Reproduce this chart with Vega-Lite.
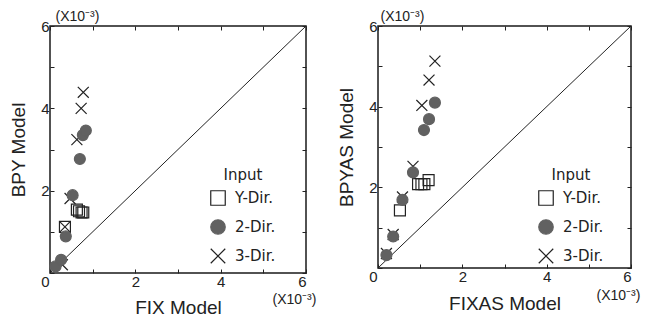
{
  "$schema": "https://vega.github.io/schema/vega-lite/v6.json",
  "background": "white",
  "padding": {"left": 8, "top": 8, "right": 0, "bottom": 0},
  "bounds": "flush",
  "spacing": 72,
  "config": {
    "view": {"stroke": "#1a1a1a", "strokeWidth": 1.5},
    "font": "Liberation Sans",
    "axis": {
      "grid": false,
      "domain": false,
      "tickColor": "#222",
      "tickSize": -4,
      "tickWidth": 1,
      "labelFont": "Liberation Sans",
      "labelFontSize": 15,
      "labelColor": "#222",
      "labelPadding": 5,
      "titleFont": "Liberation Sans",
      "titleFontSize": 19,
      "titleFontWeight": "normal",
      "titleColor": "#222"
    },
    "legend": {
      "orient": "none",
      "legendX": 160,
      "legendY": 142,
      "padding": 0,
      "titleFont": "DejaVu Sans",
      "titleFontSize": 15,
      "titleFontWeight": "normal",
      "titleColor": "#222",
      "titleAnchor": "middle",
      "titleAlign": "center",
      "titlePadding": 7,
      "labelFont": "DejaVu Sans",
      "labelFontSize": 15,
      "labelColor": "#222",
      "labelOffset": 9,
      "symbolSize": 210,
      "symbolStrokeWidth": 1.2,
      "rowPadding": 9
    }
  },
  "datasets": {
    "diag": [{"x": 0, "y": 0, "x2": 6, "y2": 6}],
    "fix": [
      {"series": "Y-Dir.", "x": 0.35, "y": 1.12},
      {"series": "Y-Dir.", "x": 0.63, "y": 1.54},
      {"series": "Y-Dir.", "x": 0.68, "y": 1.5},
      {"series": "Y-Dir.", "x": 0.74, "y": 1.47},
      {"series": "Y-Dir.", "x": 0.78, "y": 1.47},
      {"series": "3-Dir.", "x": 0.29, "y": 0.2},
      {"series": "3-Dir.", "x": 0.35, "y": 1.12},
      {"series": "3-Dir.", "x": 0.47, "y": 1.81},
      {"series": "3-Dir.", "x": 0.63, "y": 3.24},
      {"series": "3-Dir.", "x": 0.73, "y": 4.0},
      {"series": "3-Dir.", "x": 0.78, "y": 4.39},
      {"series": "2-Dir.", "x": 0.13, "y": 0.16},
      {"series": "2-Dir.", "x": 0.26, "y": 0.32},
      {"series": "2-Dir.", "x": 0.37, "y": 0.89},
      {"series": "2-Dir.", "x": 0.53, "y": 1.89},
      {"series": "2-Dir.", "x": 0.7, "y": 2.77},
      {"series": "2-Dir.", "x": 0.77, "y": 3.35},
      {"series": "2-Dir.", "x": 0.84, "y": 3.46}
    ],
    "fixas": [
      {"series": "Y-Dir.", "x": 0.52, "y": 1.43},
      {"series": "Y-Dir.", "x": 0.95, "y": 2.08},
      {"series": "Y-Dir.", "x": 1.03, "y": 2.08},
      {"series": "Y-Dir.", "x": 1.1, "y": 2.08},
      {"series": "Y-Dir.", "x": 1.2, "y": 2.18},
      {"series": "3-Dir.", "x": 0.2, "y": 0.36},
      {"series": "3-Dir.", "x": 0.36, "y": 0.83},
      {"series": "3-Dir.", "x": 0.58, "y": 1.76},
      {"series": "3-Dir.", "x": 0.83, "y": 2.52},
      {"series": "3-Dir.", "x": 1.04, "y": 4.03},
      {"series": "3-Dir.", "x": 1.21, "y": 4.66},
      {"series": "3-Dir.", "x": 1.35, "y": 5.13},
      {"series": "2-Dir.", "x": 0.2, "y": 0.32},
      {"series": "2-Dir.", "x": 0.36, "y": 0.78},
      {"series": "2-Dir.", "x": 0.58, "y": 1.69},
      {"series": "2-Dir.", "x": 0.83, "y": 2.37},
      {"series": "2-Dir.", "x": 1.09, "y": 3.42},
      {"series": "2-Dir.", "x": 1.21, "y": 3.69},
      {"series": "2-Dir.", "x": 1.35, "y": 4.1}
    ]
  },
  "hconcat": [
    {
      "width": 256,
      "height": 247,
      "layer": [
        {
          "data": {"name": "diag"},
          "mark": {"type": "rule", "color": "#222", "strokeWidth": 1},
          "encoding": {
            "x": {"field": "x", "type": "quantitative", "scale": {"domain": [0, 6], "nice": false},
              "axis": {"orient": "bottom", "values": [0, 1, 2, 3, 4, 5, 6], "labelExpr": "datum.value > 0 && datum.value % 2 == 0 ? datum.label : ''", "title": "FIX Model", "titleY": 40, "titleBaseline": "alphabetic"}},
            "y": {"field": "y", "type": "quantitative", "scale": {"domain": [0, 6], "nice": false},
              "axis": {"orient": "left", "values": [0, 1, 2, 3, 4, 5, 6], "labelExpr": "datum.value % 2 == 0 ? datum.label : ''", "labelOffset": {"condition": {"test": "datum.value == 0", "value": 8}, "value": 0}, "title": "BPY Model", "titleX": -32, "titleBaseline": "middle"}},
            "x2": {"field": "x2"},
            "y2": {"field": "y2"}
          }
        },
        {
          "data": {"name": "fix"},
          "mark": {"type": "point", "filled": true, "size": 120, "strokeWidth": 1.2, "opacity": 1},
          "encoding": {
            "x": {"field": "x", "type": "quantitative",
              "axis": {"orient": "top", "values": [0, 1, 2, 3, 4, 5, 6], "labels": false, "title": "(X10⁻³)", "titleFontSize": 14, "titleAnchor": "start", "titleAlign": "left", "titleX": 5, "titleY": -6, "titleBaseline": "alphabetic"}},
            "y": {"field": "y", "type": "quantitative",
              "axis": {"orient": "right", "values": [0, 1, 2, 3, 4, 5, 6], "labels": false, "title": "(X10⁻³)", "titleFontSize": 14, "titleAngle": 0, "titleAlign": "left", "titleX": -34, "titleY": 277, "titleBaseline": "alphabetic"}},
            "shape": {"field": "series", "type": "nominal", "title": "Input",
              "scale": {"domain": ["Y-Dir.", "2-Dir.", "3-Dir."], "range": ["square", "circle", "M-1,-1L1,1M-1,1L1,-1"]}},
            "fill": {"field": "series", "type": "nominal", "title": "Input",
              "scale": {"domain": ["Y-Dir.", "2-Dir.", "3-Dir."], "range": ["transparent", "#616161", "transparent"]}},
            "stroke": {"field": "series", "type": "nominal", "title": "Input",
              "scale": {"domain": ["Y-Dir.", "2-Dir.", "3-Dir."], "range": ["#222222", "#616161", "#222222"]}}
          }
        }
      ]
    },
    {
      "width": 253,
      "height": 242,
      "layer": [
        {
          "data": {"name": "diag"},
          "mark": {"type": "rule", "color": "#222", "strokeWidth": 1},
          "encoding": {
            "x": {"field": "x", "type": "quantitative", "scale": {"domain": [0, 6], "nice": false},
              "axis": {"orient": "bottom", "values": [0, 1, 2, 3, 4, 5, 6], "labelExpr": "datum.value > 0 && datum.value % 2 == 0 ? datum.label : ''", "title": "FIXAS Model", "titleY": 41, "titleBaseline": "alphabetic"}},
            "y": {"field": "y", "type": "quantitative", "scale": {"domain": [0, 6], "nice": false},
              "axis": {"orient": "left", "values": [0, 1, 2, 3, 4, 5, 6], "labelExpr": "datum.value % 2 == 0 ? datum.label : ''", "labelOffset": {"condition": {"test": "datum.value == 0", "value": 8}, "value": 0}, "title": "BPYAS Model", "titleX": -32, "titleBaseline": "middle"}},
            "x2": {"field": "x2"},
            "y2": {"field": "y2"}
          }
        },
        {
          "data": {"name": "fixas"},
          "mark": {"type": "point", "filled": true, "size": 120, "strokeWidth": 1.2, "opacity": 1},
          "encoding": {
            "x": {"field": "x", "type": "quantitative",
              "axis": {"orient": "top", "values": [0, 1, 2, 3, 4, 5, 6], "labels": false, "title": "(X10⁻³)", "titleFontSize": 14, "titleAnchor": "start", "titleAlign": "left", "titleX": 2, "titleY": -6, "titleBaseline": "alphabetic"}},
            "y": {"field": "y", "type": "quantitative",
              "axis": {"orient": "right", "values": [0, 1, 2, 3, 4, 5, 6], "labels": false, "title": "(X10⁻³)", "titleFontSize": 14, "titleAngle": 0, "titleAlign": "left", "titleX": -35, "titleY": 273, "titleBaseline": "alphabetic"}},
            "shape": {"field": "series", "type": "nominal", "title": "Input",
              "scale": {"domain": ["Y-Dir.", "2-Dir.", "3-Dir."], "range": ["square", "circle", "M-1,-1L1,1M-1,1L1,-1"]}},
            "fill": {"field": "series", "type": "nominal", "title": "Input",
              "scale": {"domain": ["Y-Dir.", "2-Dir.", "3-Dir."], "range": ["transparent", "#616161", "transparent"]}},
            "stroke": {"field": "series", "type": "nominal", "title": "Input",
              "scale": {"domain": ["Y-Dir.", "2-Dir.", "3-Dir."], "range": ["#222222", "#616161", "#222222"]}}
          }
        }
      ]
    }
  ],
  "resolve": {
    "scale": {"shape": "independent", "fill": "independent", "stroke": "independent"},
    "legend": {"shape": "independent", "fill": "independent", "stroke": "independent"}
  }
}
